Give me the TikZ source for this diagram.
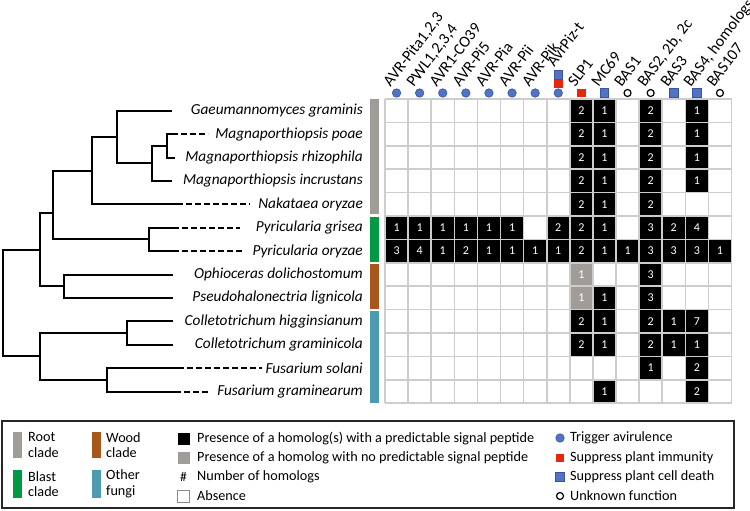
\documentclass[tikz,border=0pt]{standalone}
\usepackage{fontspec}
\setmainfont{Carlito}
\usepackage{xcolor}
\usetikzlibrary{positioning}
\definecolor{cdRoot}  {RGB}{160,156,152}
\definecolor{cdBlast} {RGB}{  0,153, 68}
\definecolor{cdWood}  {RGB}{168, 86, 28}
\definecolor{cdOther} {RGB}{ 76,155,176}
\definecolor{fnBlue}  {RGB}{ 82,114,198}
\definecolor{fnBlueD} {RGB}{ 58, 84,160}
\definecolor{fnRed}   {RGB}{228, 40, 16}
\definecolor{cellGrey}{RGB}{160,157,153}
\definecolor{gridGrey}{RGB}{205,205,205}

\begin{document}
\begin{tikzpicture}[x=1pt,y=-1pt,
  br/.style={line width=2pt,black},
  brd/.style={br,dash pattern=on 6pt off 3pt},
  sp/.style={anchor=east,inner sep=0pt,font=\fontsize{15.3}{17}\selectfont\itshape},
  hd/.style={rotate=53,anchor=base west,inner sep=0pt,font=\fontsize{16}{18}\selectfont},
  cb/.style={rectangle,minimum width=23.1pt,minimum height=23.4pt,inner sep=0pt,
             fill=black,text=white,font=\fontsize{12}{12}\selectfont},
  cg/.style={cb,fill=cellGrey},
  gl/.style={line width=1.6pt,gridGrey},
  clade/.style={rectangle,inner sep=0pt,minimum width=9pt,anchor=north west},
  symc/.style={circle,fill=fnBlue,draw=fnBlueD,line width=0.6pt,minimum size=8.5pt,inner sep=0pt},
  symr/.style={rectangle,fill=fnRed,minimum size=8.5pt,inner sep=0pt},
  symb/.style={rectangle,fill=fnBlue,draw=fnBlueD,line width=0.6pt,minimum size=8.5pt,inner sep=0pt},
  symo/.style={circle,draw=black,line width=1.2pt,minimum size=7pt,inner sep=0pt},
  lg/.style={anchor=west,inner sep=0pt,align=left,font=\fontsize{14.2}{15.5}\selectfont}
]
\useasboundingbox (0,0) rectangle (750,511);

% tree
\coordinate (root) at (3,303);
\coordinate (nA) at (40,249.6);  \coordinate (nD) at (40,356.4);
\coordinate (nB) at (53,213);    \coordinate (nO) at (64,286.2);
\coordinate (nN) at (92,170.7);  \coordinate (nG) at (117,137);
\coordinate (nM) at (152,163.4); \coordinate (nP) at (167,145.8);
\coordinate (nY) at (149,239.4); \coordinate (nC) at (127,333);
\coordinate (nF) at (107,379.8);
\coordinate (l1) at (172,110.7); \coordinate (l2) at (172,134.1);
\coordinate (l3) at (175,157.5); \coordinate (l4) at (172,180.9);
\coordinate (l5) at (177,204.3); \coordinate (l6) at (173,227.7);
\coordinate (l7) at (173,251.1); \coordinate (l8) at (173,274.5);
\coordinate (l9) at (173,297.9); \coordinate (l10) at (173,321.3);
\coordinate (l11) at (173,344.7); \coordinate (l12) at (178,368.1);
\coordinate (l13) at (175,391.5);
\coordinate (d2) at (208,134.1); \coordinate (d5) at (250,204.3);
\coordinate (d6) at (240,227.7); \coordinate (d7) at (242,251.1);
\coordinate (d12) at (262,368.1); \coordinate (d13) at (210,391.5);

\foreach \p/\q in {root/nA,root/nD,nA/nB,nA/nO,nB/nN,nB/nY,nN/nG,nN/l5,
                   nG/l1,nG/nM,nM/nP,nM/l4,nP/l2,nP/l3,nY/l6,nY/l7,
                   nO/l8,nO/l9,nD/nC,nD/nF,nC/l10,nC/l11,nF/l12,nF/l13}
  \draw[br] (\p) |- (\q);
\foreach \q/\d in {l2/d2,l5/d5,l6/d6,l7/d7,l12/d12,l13/d13}
  \draw[brd] (\q) -- (\d);

% species
\foreach \r/\nm in {1/Gaeumannomyces graminis,2/Magnaporthiopsis poae,
    3/Magnaporthiopsis rhizophila,4/Magnaporthiopsis incrustans,5/Nakataea oryzae,
    6/Pyricularia grisea,7/Pyricularia oryzae,8/Ophioceras dolichostomum,
    9/Pseudohalonectria lignicola,10/Colletotrichum higginsianum,
    11/Colletotrichum graminicola,12/Fusarium solani,13/Fusarium graminearum}
  \node[sp] (sp\r) at (363,{99+23.4*(\r-0.5)}) {\nm};

% clade bars
\node[clade,fill=cdRoot,minimum height=115pt]  (bRoot)  at (370,99) {};
\node[clade,fill=cdBlast,minimum height=45pt]  (bBlast) at (370,217) {};
\node[clade,fill=cdWood,minimum height=45pt]   (bWood)  at (370,264) {};
\node[clade,fill=cdOther,minimum height=92pt]  (bOther) at (370,311) {};

% cells
\foreach \r/\cl in {1/{9/2,10/1,12/2,14/1},2/{9/2,10/1,12/2,14/1},
    3/{9/2,10/1,12/2,14/1},4/{9/2,10/1,12/2,14/1},5/{9/2,10/1,12/2},
    6/{1/1,2/1,3/1,4/1,5/1,6/1,8/2,9/2,10/1,12/3,13/2,14/4},
    7/{1/3,2/4,3/1,4/2,5/1,6/1,7/1,8/1,9/2,10/1,11/1,12/3,13/3,14/3,15/1},
    8/{12/3},9/{10/1,12/3},10/{9/2,10/1,12/2,13/1,14/7},
    11/{9/2,10/1,12/2,13/1,14/1},12/{12/1,14/2},13/{10/1,14/2}}
  \foreach \c/\v in \cl
    \node[cb] (c\r-\c) at ({385+23.1*(\c-0.5)},{99+23.4*(\r-0.5)}) {\v};
\foreach \r in {8,9}
  \node[cg] (c\r-9) at ({385+23.1*8.5},{99+23.4*(\r-0.5)}) {1};

% grid
\foreach \i in {0,...,15}
  \draw[gl] ({385+23.1*\i},99) -- ({385+23.1*\i},403.2);
\foreach \j in {0,...,13}
  \draw[gl] (385,{99+23.4*\j}) -- (731.5,{99+23.4*\j});

% effector names and functions
\foreach \i/\nm/\sy in {1/{AVR-Pita1,2,3}/symc,2/{PWL1,2,3,4}/symc,3/AVR1-CO39/symc,
    4/AVR-Pi5/symc,5/AVR-Pia/symc,6/AVR-Pii/symc,7/AVR-Pik/symc,9/SLP1/symr,
    10/MC69/symb,11/BAS1/symo,12/{BAS2, 2b, 2c}/symo,13/BAS3/symb,
    14/{BAS4, homologs}/symb,15/BAS107/symo}{
  \node[hd] (h\i) at ({385+23.1*(\i-0.5)-6},88) {\nm};
  \node[\sy] (s\i) at ({385+23.1*(\i-0.5)},93) {};
}
\node[hd] (h8) at ({385+23.1*7.5-4},68) {AvrPiz-t};
\node[symc] (s8) at ({385+23.1*7.5},93) {};
\node[symr] (s8r) at ({385+23.1*7.5},84) {};
\node[symb] (s8b) at ({385+23.1*7.5},75) {};

% legend
\draw[line width=1.4pt,black!85] (2,421) rectangle (734,508);
\node[clade,fill=cdRoot,minimum height=26pt]  (kRoot)  at (13,432) {};
\node[clade,fill=cdBlast,minimum height=28pt] (kBlast) at (13,470) {};
\node[clade,fill=cdWood,minimum height=26pt]  (kWood)  at (92,432) {};
\node[clade,fill=cdOther,minimum height=28pt] (kOther) at (92,470) {};
\node[lg] (tRoot)  at (28,445)  {Root\\clade};
\node[lg] (tBlast) at (28,484)  {Blast\\clade};
\node[lg] (tWood)  at (106,445) {Wood\\clade};
\node[lg] (tOther) at (106,484) {Other\\fungi};

\node[rectangle,fill=black,minimum size=12pt,inner sep=0pt] (kBk) at (183.5,439) {};
\node[rectangle,fill=cellGrey,minimum size=12pt,inner sep=0pt] (kGy) at (183.5,458) {};
\node[inner sep=0pt,font=\fontsize{13.5}{15}\selectfont] (kNum) at (183.5,477) {\#};
\node[rectangle,draw=black!45,line width=0.8pt,fill=white,minimum size=12pt,inner sep=0pt] (kAb) at (183.5,496) {};
\node[lg] (tBk) at (197,439) {Presence of a homolog(s) with a predictable signal peptide};
\node[lg] (tGy) at (197,458) {Presence of a homolog with no predictable signal peptide};
\node[lg] (tNum) at (197,477) {Number of homologs};
\node[lg] (tAb) at (197,496) {Absence};

\node[symc] (kc) at (560,438) {};
\node[symr] (kr) at (560,458) {};
\node[symb] (kb) at (560,477) {};
\node[symo] (ko) at (560,496) {};
\node[lg] (tc) at (570,438) {Trigger avirulence};
\node[lg] (tr) at (570,458) {Suppress plant immunity};
\node[lg] (tb) at (570,477) {Suppress plant cell death};
\node[lg] (to) at (570,496) {Unknown function};
\end{tikzpicture}
\end{document}
